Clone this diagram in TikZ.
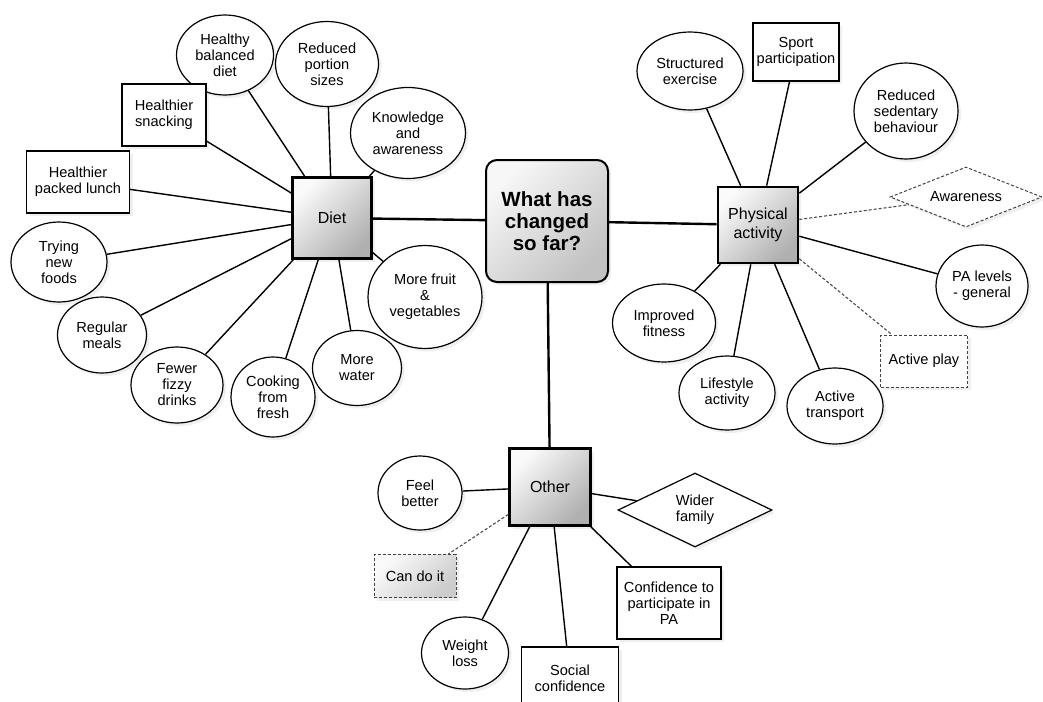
\documentclass[tikz,border=0pt]{standalone}
\usepackage{fontspec}
\setmainfont{Liberation Sans}
\usetikzlibrary{shapes.geometric,shadows}
\begin{document}
\begin{tikzpicture}[x=1pt,y=-1pt,
  every node/.style={font=\fontsize{14.6}{16}\selectfont, align=center, text=black},
  shad/.style={drop shadow={opacity=0.13, shadow xshift=3pt, shadow yshift=-3pt}},
  oval/.style={ellipse, draw, line width=1.2pt, fill=white, inner sep=0pt, shad},
  sqbox/.style={rectangle, draw, line width=1.2pt, fill=white, inner sep=0pt, shad},
  dsqbox/.style={rectangle, draw=black!75, densely dashed, line width=1pt, fill=white, inner sep=0pt, shad},
  ddiam/.style={diamond, draw=black!75, densely dashed, line width=1pt, fill=white, inner sep=0pt, aspect=2.5, shad},
  diam/.style={diamond, draw, line width=1.2pt, fill=white, inner sep=0pt, aspect=2, shad},
  hub/.style={rectangle, draw, line width=2.6pt, inner sep=0pt, top color=gray!4, bottom color=gray!62,
    shading angle=45, font=\fontsize{16}{19}\selectfont, shad},
  core/.style={rectangle, rounded corners=11pt, draw, line width=2pt, inner sep=0pt,
    minimum width=122pt, minimum height=122pt, top color=gray!6, bottom color=gray!48, shading angle=45,
    font=\fontsize{20.5}{22}\selectfont\bfseries, shad},
  link/.style={line width=1.4pt},
  dlink/.style={line width=1.1pt, densely dashed, black!70},
  mainlink/.style={line width=2.4pt}
]
\useasboundingbox (0,0) rectangle (1043,701);

% central question and the three themes
\node[core] (q) at (547,221) {What has\\changed\\so far?};
\node[hub, minimum width=79pt, minimum height=81pt] (diet) at (332,218) {Diet};
\node[hub, minimum width=80pt, minimum height=76pt] (pa) at (758,225) {Physical\\activity};
\node[hub, minimum width=81pt, minimum height=77pt] (oth) at (550,487) {Other};

% diet outcomes
\node[oval, minimum width=97pt, minimum height=80pt] (hbd) at (225,55) {Healthy\\balanced\\diet};
\node[oval, minimum width=103pt, minimum height=85pt] (rps) at (327,64) {Reduced\\portion\\sizes};
\node[oval, minimum width=115pt, minimum height=91pt] (kaa) at (408,133) {Knowledge\\and\\awareness};
\node[sqbox, minimum width=84pt, minimum height=62pt] (hs) at (164,115) {Healthier\\snacking};
\node[sqbox, minimum width=103pt, minimum height=62pt] (hpl) at (78,182) {Healthier\\packed lunch};
\node[oval, minimum width=96pt, minimum height=80pt] (tnf) at (59,262) {Trying\\new\\foods};
\node[oval, minimum width=89pt, minimum height=76pt] (rm) at (102,335) {Regular\\meals};
\node[oval, minimum width=92pt, minimum height=76pt] (ffd) at (177,385) {Fewer\\fizzy\\drinks};
\node[oval, minimum width=84pt, minimum height=80pt] (cff) at (273,397) {Cooking\\from\\fresh};
\node[oval, minimum width=89pt, minimum height=75pt] (mw) at (357,368) {More\\water};
\node[oval, minimum width=114pt, minimum height=103pt] (mfv) at (425,297) {More fruit\\\&\\vegetables};

% physical activity outcomes
\node[oval, minimum width=106pt, minimum height=78pt] (se) at (690,71) {Structured\\exercise};
\node[sqbox, minimum width=86pt, minimum height=58pt] (sp) at (796,52) {Sport\\participation};
\node[oval, minimum width=104pt, minimum height=96pt] (rsb) at (906,111) {Reduced\\sedentary\\behaviour};
\node[ddiam, minimum width=152pt, minimum height=60pt] (aw) at (966,197) {Awareness};
\node[oval, minimum width=92pt, minimum height=82pt] (pal) at (982,286) {PA levels\\- general};
\node[dsqbox, minimum width=87pt, minimum height=52pt] (ap) at (924,361) {Active play};
\node[oval, minimum width=96pt, minimum height=76pt] (at) at (835,406) {Active\\transport};
\node[oval, minimum width=96pt, minimum height=74pt] (la) at (727,393) {Lifestyle\\activity};
\node[oval, minimum width=103pt, minimum height=78pt] (if) at (664,323) {Improved\\fitness};

% other outcomes
\node[oval, minimum width=84pt, minimum height=74pt] (fb) at (420,493) {Feel\\better};
\node[dsqbox, minimum width=82pt, minimum height=43pt, fill=none, top color=gray!4, bottom color=gray!40, shading angle=45] (cdi) at (415,576) {Can do it};
\node[oval, minimum width=87pt, minimum height=72pt] (wl) at (465,653) {Weight\\loss};
\node[sqbox, minimum width=97pt, minimum height=62pt] (sc) at (570,678) {Social\\confidence};
\node[sqbox, minimum width=104pt, minimum height=72pt] (ctp) at (669,603) {Confidence to\\participate in\\PA};
\node[diam, minimum width=154pt, minimum height=74pt] (wf) at (695,510) {Wider\\family};

% theme links
\draw[mainlink] (diet) -- (q);
\draw[mainlink] (q) -- (pa);
\draw[mainlink] (q) -- (oth);

% diet links
\foreach \n in {hbd,rps,kaa,hs,hpl,tnf,rm,ffd,cff,mw,mfv}
  \draw[link] (diet) -- (\n);

% physical activity links
\foreach \n in {se,sp,rsb,pal,la,at,if}
  \draw[link] (pa) -- (\n);
\draw[dlink] (pa) -- (aw);
\draw[dlink] (pa) -- (ap);

% other links
\foreach \n in {fb,wl,sc,ctp,wf}
  \draw[link] (oth) -- (\n);
\draw[dlink] (oth) -- (cdi);
\end{tikzpicture}
\end{document}
